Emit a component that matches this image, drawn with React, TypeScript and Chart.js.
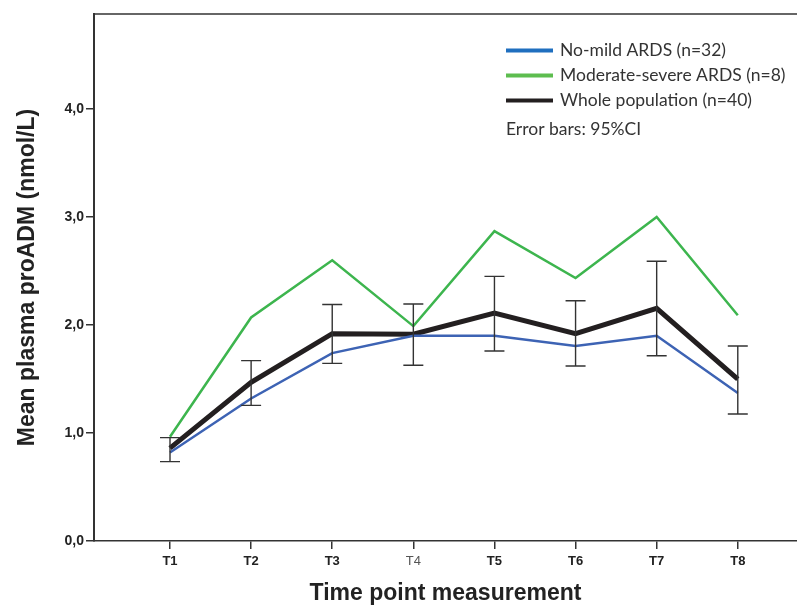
import React, { useEffect, useRef } from 'react';
import { Chart, registerables } from 'chart.js';

Chart.register(...registerables);

const timePoints = ['T1', 'T2', 'T3', 'T4', 'T5', 'T6', 'T7', 'T8'];
const noMildArds = [0.82, 1.32, 1.74, 1.9, 1.9, 1.805, 1.9, 1.37];
const modSevereArds = [0.966, 2.07, 2.6, 1.99, 2.87, 2.435, 3.0, 2.09];
const wholePopulation = [0.86, 1.47, 1.92, 1.915, 2.11, 1.92, 2.155, 1.5];
const ciLower = [0.735, 1.256, 1.645, 1.627, 1.76, 1.62, 1.715, 1.176];
const ciUpper = [0.957, 1.67, 2.19, 2.195, 2.45, 2.225, 2.59, 1.805];
const yTickValues = [0, 1, 2, 3, 4];
const yTickLabels = ['0,0', '1,0', '2,0', '3,0', '4,0'];
const seriesLabels = ['No-mild ARDS (n=32)', 'Moderate-severe ARDS (n=8)', 'Whole population (n=40)'];
const legendColors = ['#1f6fbf', '#5dbd4f', '#231f20'];
const lineColors = ['#3d63b4', '#3db54e', '#231f20'];
const legendNote = 'Error bars: 95%CI';

const toPoints = (arr: number[]) => arr.map((v, i) => ({ x: i + 1, y: v }));

const errorBarPlugin = {
  id: 'errorBars',
  afterDatasetsDraw(chart: any) {
    const { ctx, scales } = chart;
    const xs = scales.x;
    const ys = scales.y;
    ctx.save();
    ctx.strokeStyle = '#333333';
    ctx.lineWidth = 1.4;
    for (let i = 0; i < ciLower.length; i++) {
      const x = xs.getPixelForValue(i + 1);
      const y1 = ys.getPixelForValue(ciLower[i]);
      const y2 = ys.getPixelForValue(ciUpper[i]);
      ctx.beginPath();
      ctx.moveTo(x, y1);
      ctx.lineTo(x, y2);
      ctx.moveTo(x - 10, y1);
      ctx.lineTo(x + 10, y1);
      ctx.moveTo(x - 10, y2);
      ctx.lineTo(x + 10, y2);
      ctx.stroke();
    }
    ctx.restore();
  },
};

const framePlugin = {
  id: 'frameTop',
  afterDraw(chart: any) {
    const { ctx, chartArea } = chart;
    ctx.save();
    ctx.strokeStyle = '#333333';
    ctx.lineWidth = 1.5;
    ctx.beginPath();
    ctx.moveTo(chartArea.left, chartArea.top);
    ctx.lineTo(chartArea.right, chartArea.top);
    ctx.stroke();
    ctx.restore();
  },
};

const legendPlugin = {
  id: 'insideLegend',
  afterDraw(chart: any) {
    const { ctx } = chart;
    ctx.save();
    const x0 = 506;
    const lineLen = 47;
    const rows = [50.5, 75.5, 100.5];
    ctx.font = '17.5px Lato, "Open Sans", sans-serif';
    ctx.textBaseline = 'middle';
    ctx.fillStyle = '#333333';
    seriesLabels.forEach((lab, i) => {
      ctx.strokeStyle = legendColors[i];
      ctx.lineWidth = 4;
      ctx.beginPath();
      ctx.moveTo(x0, rows[i]);
      ctx.lineTo(x0 + lineLen, rows[i]);
      ctx.stroke();
      ctx.fillText(lab, 560, rows[i]);
    });
    ctx.fillText(legendNote, 506, 129);
    ctx.restore();
  },
};

export default function App() {
  const ref = useRef<HTMLCanvasElement | null>(null);
  useEffect(() => {
    document.body.style.margin = '0';
    if (!ref.current) return;
    const chart = new Chart(ref.current, {
      type: 'line',
      data: {
        datasets: [
          {
            label: seriesLabels[1],
            data: toPoints(modSevereArds),
            borderColor: lineColors[1],
            borderWidth: 2.5,
            pointRadius: 0,
            tension: 0,
            fill: false,
          },
          {
            label: seriesLabels[0],
            data: toPoints(noMildArds),
            borderColor: lineColors[0],
            borderWidth: 2.5,
            pointRadius: 0,
            tension: 0,
            fill: false,
          },
          {
            label: seriesLabels[2],
            data: toPoints(wholePopulation),
            borderColor: lineColors[2],
            borderWidth: 5,
            pointRadius: 0,
            tension: 0,
            fill: false,
          },
        ],
      },
      options: {
        animation: false,
        responsive: true,
        maintainAspectRatio: false,
        layout: { padding: { top: 14, right: 0, left: 0, bottom: 0 } },
        plugins: {
          legend: { display: false },
          tooltip: { enabled: false },
        },
        scales: {
          x: {
            type: 'linear',
            min: 0.063,
            max: 8.73,
            afterBuildTicks: (scale: any) => {
              scale.ticks = timePoints.map((_, i) => ({ value: i + 1 }));
            },
            afterFit: (scale: any) => {
              scale.height = 66;
            },
            grid: {
              drawOnChartArea: false,
              drawTicks: true,
              tickLength: 8,
              color: '#333333',
              lineWidth: 1.5,
            },
            border: { color: '#333333', width: 1.5 },
            ticks: {
              padding: 5,
              autoSkip: false,
              maxRotation: 0,
              callback: (v: any) => timePoints[Math.round(v) - 1] ?? '',
              color: (c: any) => (c.index === 3 ? '#555555' : '#222222'),
              font: (c: any) => ({
                family: '"Liberation Sans", Arial, sans-serif',
                size: 13,
                weight: c.index === 3 ? 'normal' : 'bold',
              }),
            },
            title: {
              display: true,
              text: 'Time point measurement',
              color: '#222222',
              font: { family: '"Liberation Sans", Arial, sans-serif', size: 23, weight: 'bold' },
              padding: { top: 0, bottom: 0 },
            },
          },
          y: {
            type: 'linear',
            min: 0,
            max: 4.88,
            afterBuildTicks: (scale: any) => {
              scale.ticks = yTickValues.map((v) => ({ value: v }));
            },
            afterFit: (scale: any) => {
              scale.width = 94;
            },
            grid: {
              drawOnChartArea: false,
              drawTicks: true,
              tickLength: 8,
              color: '#333333',
              lineWidth: 1.5,
            },
            border: { color: '#333333', width: 2 },
            ticks: {
              padding: 2,
              callback: (v: any) => yTickLabels[yTickValues.indexOf(Math.round(v))] ?? '',
              color: '#222222',
              font: { family: '"Liberation Sans", Arial, sans-serif', size: 14, weight: 'bold' },
            },
            title: {
              display: true,
              text: 'Mean plasma proADM (nmol/L)',
              color: '#222222',
              font: { family: '"Liberation Sans", Arial, sans-serif', size: 23, weight: 'bold' },
              padding: { top: 14, bottom: 0 },
            },
          },
        },
      },
      plugins: [errorBarPlugin, framePlugin, legendPlugin],
    } as any);
    return () => chart.destroy();
  }, []);
  return (
    <div style={{ width: 797, height: 607, position: 'relative' }}>
      <canvas ref={ref} />
    </div>
  );
}
